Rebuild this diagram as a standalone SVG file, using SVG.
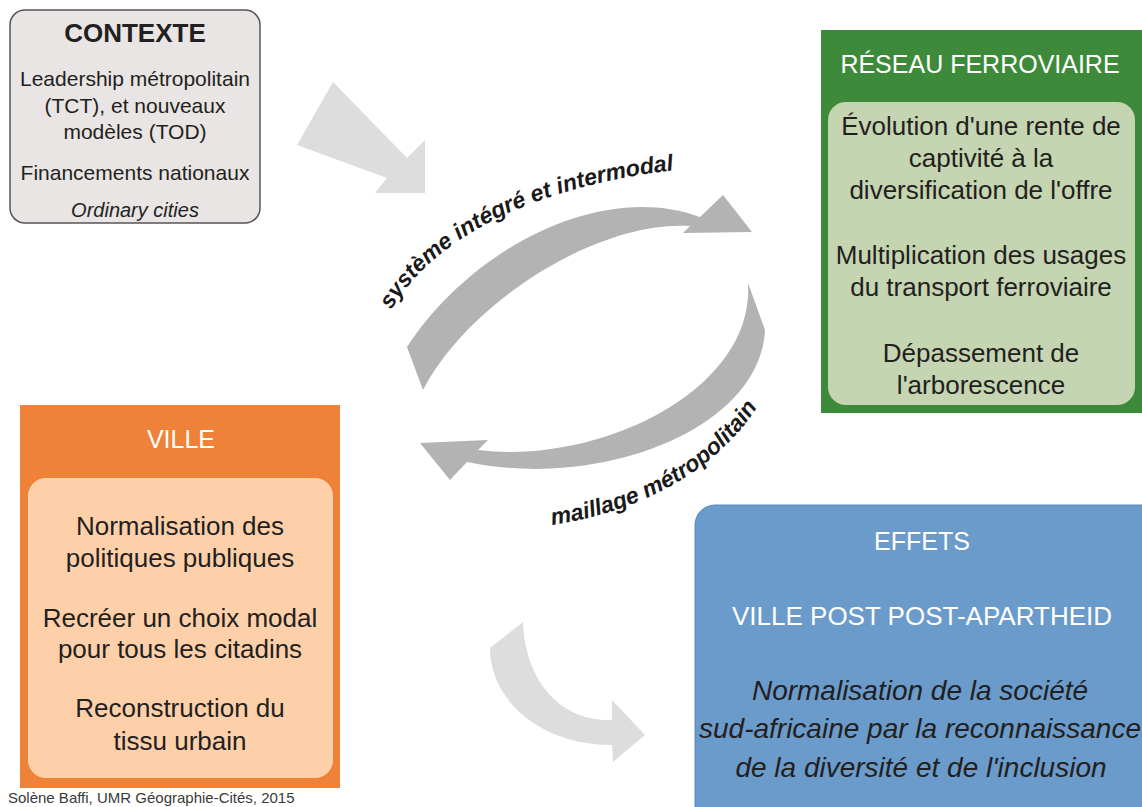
<svg xmlns="http://www.w3.org/2000/svg" width="1142" height="807" viewBox="0 0 1142 807">
<defs>
<style>
.t{font-family:"Liberation Sans",Arial,sans-serif;text-anchor:middle;fill:#231f20}
.w{fill:#ffffff}
.it{font-style:italic}
.lbl{font-family:"Liberation Sans",Arial,sans-serif;font-weight:bold;font-style:italic;font-size:23px;fill:#1a1a1a}
.light{fill:#dddddd}
.dark{fill:#b3b3b3}
</style>
<path id="p1" d="M 391,310 C 438,232 545,182 695,168"/>
<path id="p2" d="M 552,525 C 640,512 722,470 764,396"/>
</defs>
<rect width="1142" height="807" fill="#ffffff"/>

<g id="connectors">
<path class="light" d="M 333,82 L 407,158 L 425,140 L 425,193 L 375,193 L 387,178 L 297,145 Z"/>
<path class="dark" d="M 407,347 C 470,250 600,180 700,217 L 723,195 L 752,232 L 683,233 L 690,226 C 600,220 470,300 423,390 Z"/>
<path class="dark" d="M 748,283 L 765,330 C 760,430 600,490 467,462 L 450,480 L 420,443 L 488,440 L 478,450 C 600,465 755,390 748,283 Z"/>
<path class="light" d="M 523,622 C 525,680 560,722 612,720 L 612,700 L 645,735 L 613,762 L 612,745 C 540,745 490,700 490,648 Z"/>
<text class="lbl"><textPath href="#p1">système intégré et intermodal</textPath></text>
<text class="lbl"><textPath href="#p2">maillage métropolitain</textPath></text>
</g>

<g id="contexte">
<rect x="10" y="10" width="250" height="213" rx="15" fill="#e8e5e4" stroke="#555555" stroke-width="1.5"/>
<text class="t" x="135" y="42" font-size="26" font-weight="bold">CONTEXTE</text>
<text class="t" x="135" y="86" font-size="21">Leadership métropolitain</text>
<text class="t" x="135" y="113" font-size="21">(TCT), et nouveaux</text>
<text class="t" x="135" y="139" font-size="21">modèles (TOD)</text>
<text class="t" x="135" y="180" font-size="21">Financements nationaux</text>
<text class="t it" x="135" y="217" font-size="20">Ordinary cities</text>
</g>

<g id="reseau">
<rect x="821" y="30" width="340" height="383" fill="#3e8a3b"/>
<rect x="828" y="102" width="307" height="303" rx="18" fill="#c5d4b1"/>
<text class="t w" x="980" y="73" font-size="25">RÉSEAU FERROVIAIRE</text>
<text class="t" x="981" y="135" font-size="26">Évolution d'une rente de</text>
<text class="t" x="981" y="167" font-size="26">captivité à la</text>
<text class="t" x="981" y="199" font-size="26">diversification de l'offre</text>
<text class="t" x="981" y="264" font-size="26">Multiplication des usages</text>
<text class="t" x="981" y="296" font-size="26">du transport ferroviaire</text>
<text class="t" x="981" y="362" font-size="26">Dépassement de</text>
<text class="t" x="981" y="394" font-size="26">l'arborescence</text>
</g>

<g id="ville">
<rect x="20" y="405" width="320" height="383" fill="#ef8239"/>
<rect x="28" y="478" width="305" height="300" rx="18" fill="#fdd0aa"/>
<text class="t w" x="181" y="448" font-size="25">VILLE</text>
<text class="t" x="180" y="535" font-size="26">Normalisation des</text>
<text class="t" x="180" y="567" font-size="26">politiques publiques</text>
<text class="t" x="180" y="627" font-size="26">Recréer un choix modal</text>
<text class="t" x="180" y="658" font-size="26">pour tous les citadins</text>
<text class="t" x="180" y="717" font-size="26">Reconstruction du</text>
<text class="t" x="180" y="750" font-size="26">tissu urbain</text>
</g>

<g id="effets">
<rect x="695" y="505" width="480" height="330" rx="20" fill="#6a9bca" stroke="#5a8abb" stroke-width="1"/>
<text class="t w" x="922" y="550" font-size="25">EFFETS</text>
<text class="t w" x="922" y="625" font-size="26">VILLE POST POST-APARTHEID</text>
<text class="t it" x="920" y="700" font-size="28">Normalisation de la société</text>
<text class="t it" x="920" y="738" font-size="28">sud-africaine par la reconnaissance</text>
<text class="t it" x="921" y="777" font-size="28">de la diversité et de l'inclusion</text>
</g>

<text x="8" y="803" font-family="Liberation Sans, Arial, sans-serif" font-size="15" fill="#3a3a3a">Solène Baffi, UMR Géographie-Cités, 2015</text>
</svg>
